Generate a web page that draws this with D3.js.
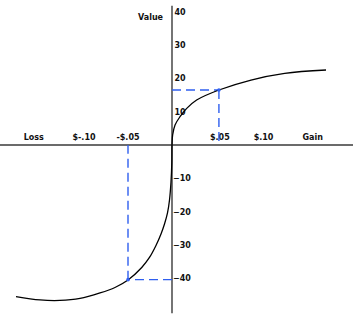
<!DOCTYPE html>
<html>
<head>
<meta charset="utf-8">
<script src="https://cdn.jsdelivr.net/npm/d3@7"></script>
<style>
  body { margin: 0; background: #fff; }
  text { font-family: "DejaVu Sans", Verdana, sans-serif; font-weight: bold; font-size: 8px; fill: #111; }
</style>
</head>
<body>
<svg id="chart" width="353" height="317"></svg>
<script>
// value curve (gain in $, value)
const curveX = [-0.1773, -0.15, -0.1273, -0.1045, -0.0818, -0.0648, -0.05, -0.0344, -0.0256, -0.0182, -0.0125,
                -0.00852, -0.00511, -0.00284, -0.00114, -0.00023, 0,
                0.0007, 0.0033, 0.0087, 0.016, 0.0268, 0.051, 0.0859, 0.1225, 0.1674];
const curveV = [-45.5, -46.5, -46.65, -46.05, -44.4, -42.75, -40.5, -36.75, -33.75, -30.15, -26.7,
                -23.7, -20.4, -16.5, -11.1, -5.4, 0,
                3, 6, 8.5, 11, 13.5, 16.5, 19.5, 21.5, 22.5];

// dashed reference points
const refX = [0.051, -0.05];
const refV = [16.5, -40.4];

// axis labels
const xLabels = ["Loss", "$-.10", "-$.05", "$.05", "$.10", "Gain"];
const xLabelAt = [-0.157, -0.10, -0.05, 0.052, 0.0995, 0.153];
const yTicks = [40, 30, 20, 10, -10, -20, -30, -40];

const W = 353, H = 317;
const cx = 172;
const svg = d3.select("#chart");

const x = d3.scaleLinear().domain([-0.1, 0, 0.1]).range([cx - 88, cx, cx + 92]);
const y = d3.scaleLinear().domain([-40, 0, 40]).range([278.3, 145, 11.7]);

/* --- axes --- */
svg.append("line")
  .attr("x1", 0).attr("x2", W)
  .attr("y1", y(0)).attr("y2", y(0))
  .attr("stroke", "#3a3a3a").attr("stroke-width", 1.4);

svg.append("line")
  .attr("x1", x(0)).attr("x2", x(0))
  .attr("y1", y(41.8)).attr("y2", y(-50.5))
  .attr("stroke", "#3a3a3a").attr("stroke-width", 1.4);

const yAxis = svg.append("g")
  .attr("transform", `translate(${x(0)},0)`)
  .call(d3.axisRight(y).tickValues(yTicks).tickSize(0).tickPadding(2));
yAxis.select(".domain").remove();
yAxis.selectAll("text")
  .attr("x", (d) => (d < 0 ? 1 : 2.5))
  .attr("font-family", null).attr("font-size", null).attr("fill", null);

svg.append("text")
  .attr("x", x(0) - 9).attr("y", 20)
  .attr("text-anchor", "end")
  .text("Value");

svg.append("g").selectAll("text")
  .data(xLabels)
  .join("text")
  .attr("x", (d, i) => x(xLabelAt[i]))
  .attr("y", 140)
  .attr("text-anchor", "middle")
  .text((d) => d);

/* --- dashed guides --- */
const guides = svg.append("g")
  .attr("stroke", "#2f5fef").attr("stroke-width", 1.4)
  .attr("stroke-dasharray", "9,5").attr("fill", "none");

refX.forEach((rx, i) => {
  guides.append("line")
    .attr("x1", x(0)).attr("x2", x(rx))
    .attr("y1", y(refV[i])).attr("y2", y(refV[i]));
  guides.append("line")
    .attr("x1", x(rx)).attr("x2", x(rx))
    .attr("y1", y(refV[i])).attr("y2", y(0));
});

/* --- value curve --- */
const line = d3.line()
  .x((d) => x(d[0]))
  .y((d) => y(d[1]))
  .curve(d3.curveCatmullRom.alpha(0.5));

svg.append("path")
  .datum(curveX.map((v, i) => [v, curveV[i]]))
  .attr("d", line)
  .attr("fill", "none")
  .attr("stroke", "#000")
  .attr("stroke-width", 1.3);

svg.append("g").selectAll("circle")
  .data(refX)
  .join("circle")
  .attr("cx", (d) => x(d))
  .attr("cy", (d, i) => y(refV[i]))
  .attr("r", 1.8)
  .attr("fill", "#2f5fef");
</script>
</body>
</html>
